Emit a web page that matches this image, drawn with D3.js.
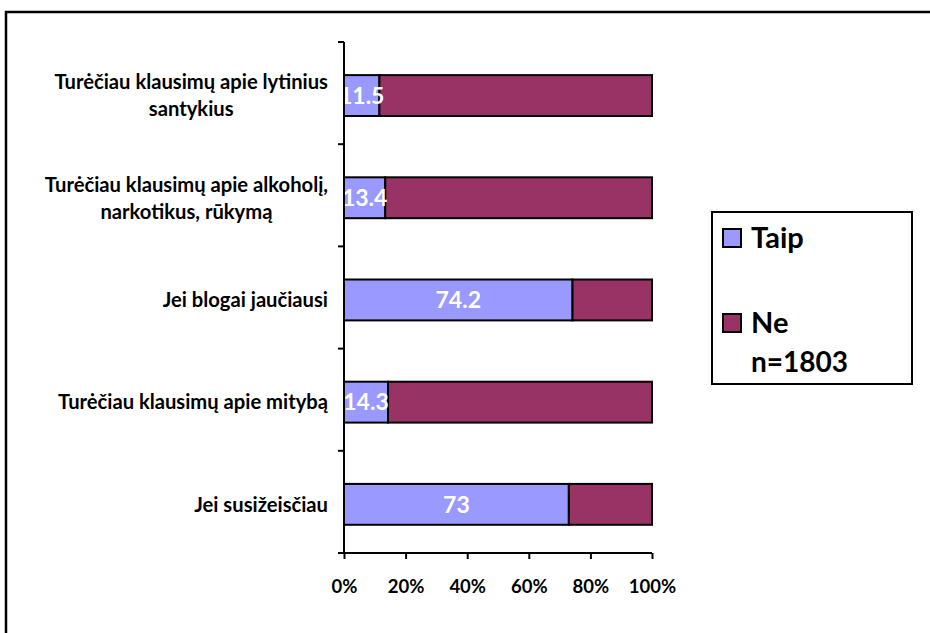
<!DOCTYPE html>
<html>
<head>
<meta charset="utf-8">
<script src="https://cdn.jsdelivr.net/npm/d3@7"></script>
<style>
  html, body { margin: 0; padding: 0; background: #fff; }
  svg { display: block; font-family: Lato, "Open Sans", sans-serif; font-weight: bold; }
</style>
</head>
<body>
<svg id="chart" width="930" height="633"></svg>
<script>
// Answers, top to bottom
const categories = [
  ["Turėčiau klausimų apie lytinius", "santykius"],
  ["Turėčiau klausimų apie alkoholį,", "narkotikus, rūkymą"],
  ["Jei blogai jaučiausi"],
  ["Turėčiau klausimų apie mitybą"],
  ["Jei susižeisčiau"]
];
const taipValues = [11.5, 13.4, 74.2, 14.3, 73];
const neValues = taipValues.map(v => 100 - v);
const seriesNames = ["Taip", "Ne"];
const seriesColors = ["#9999FF", "#993366"];
const xTicks = [0, 20, 40, 60, 80, 100];
const sampleNote = "n=1803";

const svg = d3.select("#chart");

// outer frame
svg.append("rect")
  .attr("x", 6).attr("y", 12).attr("width", 940).attr("height", 640)
  .attr("fill", "none").attr("stroke", "#000").attr("stroke-width", 2.5);

const plot = { left: 344, right: 652, top: 42, bottom: 553 };

const x = d3.scaleLinear().domain([0, 100]).range([plot.left, plot.right]);
const y = d3.scaleBand().domain(d3.range(categories.length))
  .range([plot.top, plot.bottom]).paddingInner(0.6).paddingOuter(0.3).align(0.54);

const rows = categories.map((c, i) => ({ i, taip: taipValues[i], ne: neValues[i] }));
const stacked = d3.stack().keys(["taip", "ne"])(rows);

const g = svg.append("g");

stacked.forEach((layer, k) => {
  g.selectAll(null).data(layer).enter().append("rect")
    .attr("x", d => x(d[0]))
    .attr("y", d => y(d.data.i))
    .attr("width", d => x(d[1]) - x(d[0]))
    .attr("height", y.bandwidth())
    .attr("fill", seriesColors[k])
    .attr("stroke", "#000").attr("stroke-width", 2);
});

// value labels on the Taip segments
g.selectAll(null).data(rows).enter().append("text")
  .attr("x", d => x(d.taip / 2))
  .attr("y", d => y(d.i) + y.bandwidth() / 2)
  .attr("dy", "0.36em")
  .attr("text-anchor", "middle")
  .attr("fill", "#fff")
  .attr("font-size", 23)
  .text(d => d.taip);

// y axis with ticks between categories
const yAxisG = svg.append("g");
yAxisG.append("line")
  .attr("x1", plot.left).attr("x2", plot.left)
  .attr("y1", plot.top).attr("y2", plot.bottom)
  .attr("stroke", "#000").attr("stroke-width", 2);
const step = (plot.bottom - plot.top) / categories.length;
yAxisG.selectAll(null).data(d3.range(categories.length + 1)).enter().append("line")
  .attr("x1", plot.left - 6).attr("x2", plot.left)
  .attr("y1", i => plot.top + i * step).attr("y2", i => plot.top + i * step)
  .attr("stroke", "#000").attr("stroke-width", 2);

// category labels: lines centred on each other, block right-aligned to the axis
const labelRight = 328;
const lineH = 27;
categories.forEach((lines, i) => {
  const cy = y(i) + y.bandwidth() / 2;
  const t = svg.append("text").attr("font-size", 20.2).attr("fill", "#000");
  const spans = lines.map((ln, j) =>
    t.append("tspan").attr("y", cy + (j - (lines.length - 1) / 2) * lineH).attr("dy", "0.36em").text(ln));
  const widths = spans.map(s => s.node().getComputedTextLength());
  const maxW = d3.max(widths);
  const centre = labelRight - maxW / 2;
  spans.forEach(s => s.attr("x", centre).attr("text-anchor", "middle"));
});

// x axis
const xAxis = d3.axisBottom(x).tickValues(xTicks).tickSize(6).tickFormat(d => d + "%");
const xg = svg.append("g").attr("transform", `translate(0,${plot.bottom})`).call(xAxis);
xg.select(".domain").attr("stroke", "#000").attr("stroke-width", 2)
  .attr("d", `M${plot.left - 6},0H${plot.right}`);
xg.selectAll(".tick line").attr("stroke", "#000").attr("stroke-width", 2);
xg.selectAll(".tick text").attr("font-size", 18.5).attr("font-family", "Lato, sans-serif")
  .attr("font-weight", "bold").attr("fill", "#000").attr("y", 33).attr("dy", "0.36em");

// legend
const lg = svg.append("g");
lg.append("rect").attr("x", 712).attr("y", 212).attr("width", 200).attr("height", 172)
  .attr("fill", "#fff").attr("stroke", "#000").attr("stroke-width", 2);
const legendY = [238, 323];
seriesNames.forEach((name, k) => {
  lg.append("rect").attr("x", 723).attr("y", legendY[k] - 9).attr("width", 18).attr("height", 18)
    .attr("fill", seriesColors[k]).attr("stroke", "#000").attr("stroke-width", 2);
  lg.append("text").attr("x", 751).attr("y", legendY[k]).attr("dy", "0.36em")
    .attr("font-size", 29).attr("fill", "#000").text(name);
});
lg.append("text").attr("x", 751).attr("y", 362).attr("dy", "0.36em")
  .attr("font-size", 28).attr("fill", "#000").text(sampleNote);
</script>
</body>
</html>
